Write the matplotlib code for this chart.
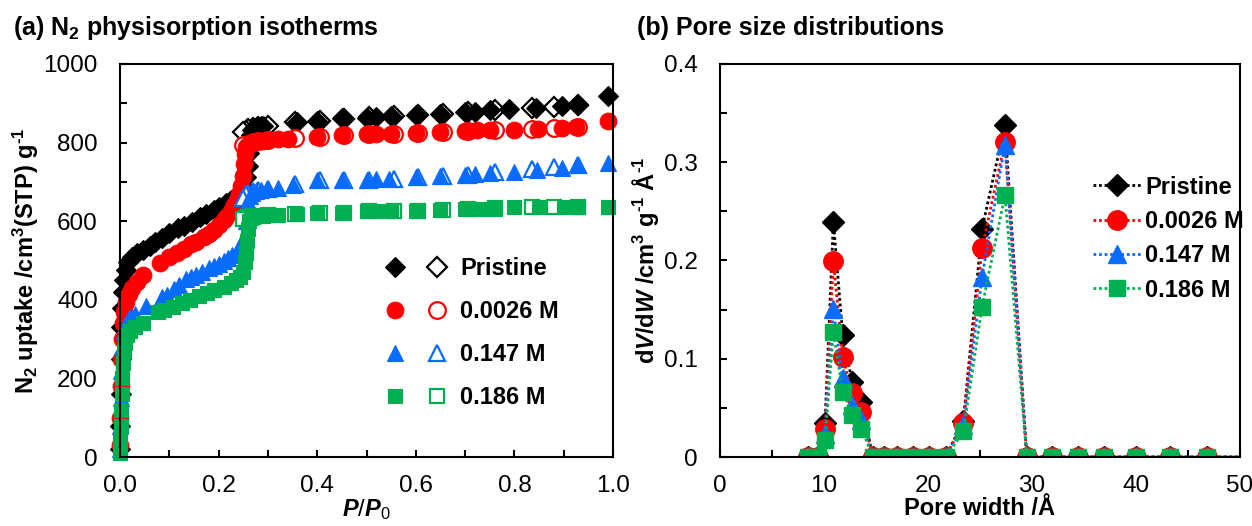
import numpy as np
import matplotlib.pyplot as plt
from matplotlib.legend_handler import HandlerTuple
from matplotlib.ticker import MultipleLocator

plt.rcParams.update({
    'font.family': ['Liberation Sans', 'DejaVu Sans'],
    'font.size': 17,
    'mathtext.fontset': 'custom',
    'mathtext.rm': 'Liberation Sans',
    'mathtext.bf': 'Liberation Sans:bold',
    'mathtext.it': 'Liberation Sans:italic:bold',
    'axes.linewidth': 1.5,
})

# ---- (a) isotherms: adsorption (filled) ----
p_pristine = [0.0005, 0.001, 0.0015, 0.002, 0.003, 0.004, 0.006, 0.008, 0.012, 0.016, 0.024, 0.035,
              0.047, 0.06, 0.071, 0.085, 0.1, 0.118, 0.13, 0.146, 0.163, 0.175, 0.19, 0.2, 0.216, 0.225,
              0.233, 0.242, 0.25, 0.255, 0.26, 0.262, 0.264, 0.266, 0.268, 0.272, 0.278, 0.285, 0.29,
              0.36, 0.4, 0.45, 0.5, 0.52, 0.55, 0.6, 0.65, 0.7, 0.72, 0.75, 0.79, 0.844, 0.897, 0.93, 0.99]
v_pristine = [20, 80, 160, 250, 330, 380, 420, 450, 475, 495, 509, 518, 527, 537, 547, 558, 570,
              582, 589, 598, 610, 618, 628, 636, 646, 654, 662, 672, 690, 712, 740, 773, 800, 820,
              832, 838, 840, 842, 843, 852, 856, 862, 863, 866, 867, 870, 874, 878, 879, 882, 885,
              889, 893, 896, 919]

p_0026 = [0.0005, 0.001, 0.002, 0.003, 0.004, 0.006, 0.008, 0.012, 0.018, 0.025, 0.035, 0.047, 0.081,
          0.1, 0.115, 0.13, 0.145, 0.155, 0.17, 0.18, 0.19, 0.2, 0.21, 0.216, 0.225, 0.232, 0.237,
          0.242, 0.246, 0.249, 0.251, 0.253, 0.255, 0.26, 0.27, 0.28, 0.29, 0.3, 0.32, 0.34, 0.4,
          0.45, 0.5, 0.52, 0.55, 0.6, 0.65, 0.7, 0.725, 0.75, 0.8, 0.848, 0.897, 0.925, 0.99]
v_0026 = [30, 100, 180, 250, 300, 340, 370, 395, 415, 430, 445, 463, 493, 508, 519, 530, 541, 547,
          560, 568, 577, 590, 603, 611, 625, 640, 654, 670, 690, 715, 745, 770, 790, 795, 800, 803,
          805, 806, 808, 810, 814, 819, 822, 822, 823, 825, 826, 829, 831, 831, 833, 835, 838, 839, 855]

p_147 = [0.0005, 0.001, 0.002, 0.003, 0.005, 0.008, 0.012, 0.02, 0.03, 0.053, 0.085, 0.095, 0.11,
         0.12, 0.134, 0.145, 0.155, 0.166, 0.18, 0.19, 0.2, 0.21, 0.22, 0.227, 0.235, 0.242, 0.248,
         0.252, 0.255, 0.258, 0.26, 0.263, 0.268, 0.275, 0.285, 0.3, 0.32, 0.35, 0.4, 0.45, 0.5,
         0.52, 0.545, 0.6, 0.65, 0.7, 0.72, 0.75, 0.8, 0.845, 0.897, 0.927, 0.99]
v_147 = [20, 80, 150, 220, 280, 320, 340, 355, 365, 385, 406, 413, 427, 437, 453, 458, 463, 470, 480,
         486, 491, 498, 506, 513, 520, 525, 530, 560, 600, 630, 650, 665, 672, 677, 680, 682, 684,
         692, 705, 705, 705, 707, 707, 713, 715, 717, 720, 722, 726, 730, 735, 744, 748]

p_186 = [0.0005, 0.001, 0.002, 0.003, 0.004, 0.005, 0.006, 0.008, 0.01, 0.014, 0.02, 0.03, 0.047,
         0.077, 0.09, 0.108, 0.125, 0.142, 0.16, 0.176, 0.19, 0.21, 0.225, 0.235, 0.243, 0.25, 0.253,
         0.256, 0.258, 0.26, 0.262, 0.265, 0.27, 0.28, 0.29, 0.3, 0.32, 0.36, 0.4, 0.45, 0.5, 0.52,
         0.55, 0.6, 0.65, 0.7, 0.73, 0.76, 0.8, 0.85, 0.9, 0.93, 0.99]
v_186 = [10, 40, 80, 120, 160, 200, 240, 270, 290, 310, 320, 330, 341, 369, 375, 382, 391, 400, 409,
         417, 424, 433, 442, 450, 458, 470, 495, 520, 550, 580, 600, 608, 611, 613, 614, 615, 616,
         618, 620, 622, 625, 625, 625, 627, 628, 632, 632, 632, 635, 636, 636, 637, 636]

# ---- (a) isotherms: desorption (open) ----
p_des = [0.93, 0.88, 0.835, 0.76, 0.705, 0.655, 0.605, 0.555, 0.505, 0.455, 0.405, 0.355, 0.30,
         0.28, 0.27, 0.26, 0.255, 0.25]
vd_pristine = [896, 890, 888, 882, 878, 874, 870, 867, 864, 861, 856, 852, 842, 840, 838, 835, 830, 828]
vd_0026 = [839, 837, 835, 831, 829, 826, 825, 823, 822, 819, 815, 812, 806, 804, 801, 797, 795, 793]
vd_147 = [743, 738, 733, 724, 718, 715, 713, 708, 706, 705, 704, 694, 682, 679, 676, 672, 668, 660]
vd_186 = [637, 637, 636, 633, 632, 628, 627, 625, 625, 622, 620, 619, 615, 614, 612, 610, 608, 606]

# ---- (b) pore size distributions ----
width = [8.5, 9.4, 10.1, 10.9, 11.8, 12.7, 13.6, 14.7, 15.8, 17.0, 18.6, 20.1, 21.7, 23.4, 25.2,
         27.4, 29.5, 31.9, 34.4, 36.9, 40.0, 43.3, 46.8, 51.0]
psd_pristine = [0, 0, 0.035, 0.2395, 0.124, 0.0767, 0.0563, 0, 0, 0, 0, 0, 0, 0.037, 0.2325, 0.338,
                0, 0, 0, 0, 0, 0, 0, 0]
psd_0026 = [0, 0, 0.029, 0.199, 0.102, 0.0648, 0.0461, 0, 0, 0, 0, 0, 0, 0.035, 0.2125, 0.321,
            0, 0, 0, 0, 0, 0, 0, 0]
psd_147 = [0, 0, 0.023, 0.151, 0.080, 0.053, 0.0377, 0, 0, 0, 0, 0, 0, 0.033, 0.1835, 0.318,
           0, 0, 0, 0, 0, 0, 0, 0]
psd_186 = [0, 0, 0.017, 0.1276, 0.0665, 0.0427, 0.029, 0, 0, 0, 0, 0, 0, 0.026, 0.153, 0.2667,
           0, 0, 0, 0, 0, 0, 0, 0]

labels = ['Pristine', '0.0026 M', '0.147 M', '0.186 M']
colors = ['black', '#FF0000', '#0A6CFF', '#00B050']
markers = ['D', 'o', '^', 's']
msizes = [10, 12, 12, 10]

fig = plt.figure(figsize=(12.52, 5.26), dpi=100)
ax1 = fig.add_axes([120 / 1252, 69 / 526, 493 / 1252, 393 / 526])
ax2 = fig.add_axes([720 / 1252, 69 / 526, 520 / 1252, 393 / 526])

ads = [(p_pristine, v_pristine), (p_0026, v_0026), (p_147, v_147), (p_186, v_186)]
des = [vd_pristine, vd_0026, vd_147, vd_186]
handles = []
for i in range(4):
    h_open, = ax1.plot(p_des, des[i], linestyle='none', marker=markers[i], ms=msizes[i],
                       mfc='white', mec=colors[i], mew=1.6, clip_on=False)
    h_fill, = ax1.plot(ads[i][0], ads[i][1], linestyle='none', marker=markers[i], ms=msizes[i],
                       mfc=colors[i], mec=colors[i], mew=0.8, clip_on=False)
    handles.append((h_fill, h_open))

ax1.set_xlim(0, 1.0)
ax1.set_ylim(0, 1000)
ax1.xaxis.set_major_locator(MultipleLocator(0.2))
ax1.xaxis.set_minor_locator(MultipleLocator(0.1))
ax1.yaxis.set_major_locator(MultipleLocator(200))
ax1.yaxis.set_minor_locator(MultipleLocator(100))
ax1.xaxis.set_major_formatter(lambda x, pos: f'{x:.1f}')
ax1.set_xlabel(r'$\mathit{P/P_0}$', fontsize=17, labelpad=0)
ax1.set_ylabel('N$_\\mathbf{2}$ uptake /cm$^\\mathbf{3}$(STP) g$^\\mathbf{\u2010 1}$',
               fontsize=17, fontweight='bold', labelpad=2)
ax1.legend(handles, labels, handler_map={tuple: HandlerTuple(ndivide=None, pad=0.85)},
           loc='upper left', bbox_to_anchor=(0.517, 0.532), frameon=False, handlelength=2.7,
           handletextpad=0.5, labelspacing=0.84, prop={'weight': 'bold', 'size': 17},
           borderaxespad=0)

psd = [psd_pristine, psd_0026, psd_147, psd_186]
psd_ms = [11, 14, 13, 11]
for i in range(4):
    ax2.plot(width, psd[i], linestyle=(0, (1, 1)), linewidth=2, color=colors[i],
             marker=markers[i], ms=psd_ms[i], mfc=colors[i], mec=colors[i], label=labels[i])

ax2.set_xlim(0, 50)
ax2.set_ylim(0, 0.4)
ax2.xaxis.set_major_locator(MultipleLocator(10))
ax2.xaxis.set_minor_locator(MultipleLocator(5))
ax2.yaxis.set_major_locator(MultipleLocator(0.1))
ax2.yaxis.set_minor_locator(MultipleLocator(0.05))
ax2.yaxis.set_major_formatter(lambda y, pos: '0' if y == 0 else f'{y:.1f}')
ax2.set_xlabel('Pore width /Å', fontsize=17, fontweight='bold', labelpad=0)
ax2.set_ylabel('d$\\mathit{V}$/d$\\mathit{W}$ /cm$^\\mathbf{3}$ g$^\\mathbf{\u2010 1}$ Å$^\\mathbf{\u2010 1}$',
               fontsize=17, fontweight='bold', labelpad=2)
ax2.legend(loc='upper left', bbox_to_anchor=(0.70, 0.74), frameon=False, handlelength=2.0,
           handletextpad=0.2, labelspacing=0.48, prop={'weight': 'bold', 'size': 17},
           borderaxespad=0)

for ax in (ax1, ax2):
    ax.tick_params(which='both', direction='in', length=5, width=1.5, top=False, right=False)
    ax.tick_params(axis='y', which='major', pad=16, labelsize=17.5)
    ax.tick_params(axis='x', which='major', pad=13, labelsize=17.5)

fig.text(13 / 1252, 1 - 28 / 526, r'(a) N$_\mathbf{2}$ physisorption isotherms', fontsize=18,
         fontweight='bold', va='center', ha='left')
fig.text(637 / 1252, 1 - 28 / 526, '(b) Pore size distributions', fontsize=18,
         fontweight='bold', va='center', ha='left')

fig.savefig('out.png', dpi=100)
